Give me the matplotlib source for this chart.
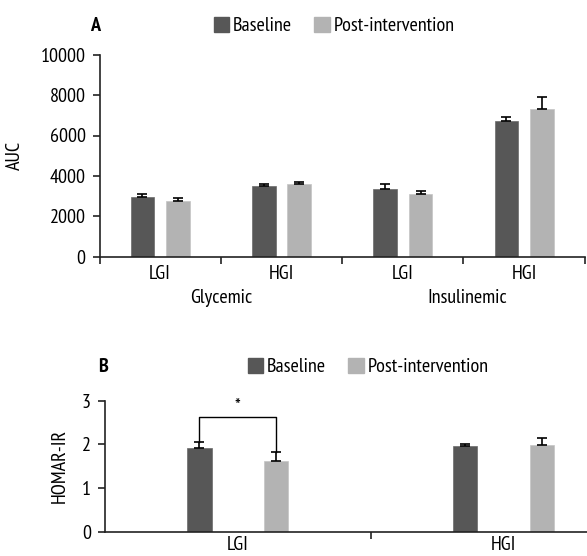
import matplotlib
matplotlib.use("Agg")
import matplotlib.pyplot as plt
from matplotlib.patches import Patch
import numpy as np

plt.rcParams["font.family"] = ["PT Sans Narrow", "DejaVu Sans"]

# panel A data
auc_cats = ["LGI", "HGI", "LGI", "HGI"]
auc_groups = ["Glycemic", "Insulinemic"]
auc_base = [2980, 3510, 3330, 6740]
auc_base_err = [100, 80, 260, 200]
auc_post = [2770, 3590, 3110, 7300]
auc_post_err = [140, 130, 140, 610]

# panel B data
homa_cats = ["LGI", "HGI"]
homa_base = [1.92, 1.97]
homa_base_err = [0.14, 0.03]
homa_post = [1.63, 1.99]
homa_post_err = [0.20, 0.16]

dark = "#575757"
light = "#b3b3b3"
W, H = 587, 556
fs = 14.5

fig = plt.figure(figsize=(W / 100, H / 100), dpi=100)
err_kw = dict(ecolor="black", capsize=3.8, elinewidth=1.2, capthick=1.2)


def style_axes(ax, xpad):
    for s in ["top", "right"]:
        ax.spines[s].set_visible(False)
    for s in ["left", "bottom"]:
        ax.spines[s].set_linewidth(1.2)
        ax.spines[s].set_color("#222222")
    ax.tick_params(axis="x", which="major", length=0, labelsize=fs, pad=xpad)
    ax.tick_params(axis="x", which="minor", length=5, width=1.2, color="#222222")
    ax.tick_params(axis="y", labelsize=fs, length=5, width=1.2, pad=5, color="#222222")


def add_legend(x_px, y_px):
    fig.legend(handles=[Patch(color=dark, label="Baseline"), Patch(color=light, label="Post-intervention")],
               loc="center left", bbox_to_anchor=(x_px / W, 1 - y_px / H), ncol=2, frameon=False,
               fontsize=fs, handlelength=0.75, handleheight=0.75, handletextpad=0.2,
               columnspacing=1.1, borderpad=0, borderaxespad=0)


# ---- panel A ----
axA = fig.add_axes([99.5 / W, 1 - 256.7 / H, (584.8 - 99.5) / W, 202 / H])
x = np.arange(len(auc_cats))
bw = 0.195
off = 0.146
axA.bar(x - off, auc_base, bw, color=dark, edgecolor="#6a6a6a", lw=0.5,
        yerr=[np.zeros(len(x)), auc_base_err], error_kw=err_kw)
axA.bar(x + off, auc_post, bw, color=light, edgecolor="#c4c4c4", lw=0.5,
        yerr=[np.zeros(len(x)), auc_post_err], error_kw=err_kw)
axA.set_xlim(-0.5, 3.5)
axA.set_ylim(0, 10000)
axA.set_yticks(range(0, 10001, 2000))
axA.set_xticks(x)
axA.set_xticklabels(auc_cats)
axA.set_xticks(np.arange(-0.5, 3.6, 1), minor=True)
style_axes(axA, 6)
axA.set_ylabel("AUC", fontsize=fs)
axA.yaxis.set_label_coords(-0.155, 0.5)
for gx, g in zip([0.5, 2.53], auc_groups):
    axA.annotate(g, xy=(gx, 0), xycoords=("data", "axes fraction"),
                 xytext=(0, -30), textcoords="offset points", ha="center", va="center", fontsize=fs)
fig.text(95 / W, 1 - 26 / H, "A", fontsize=fs, fontweight="bold", ha="center", va="center")
add_legend(214, 26)

# ---- panel B ----
axB = fig.add_axes([104.8 / W, 1 - 531.7 / H, (W - 104.8) / W, 131 / H])
xb = np.arange(len(homa_cats))
bwb = 0.091
offb = 0.144
axB.bar(xb - offb, homa_base, bwb, color=dark, edgecolor="#6a6a6a", lw=0.5,
        yerr=[np.zeros(len(xb)), homa_base_err], error_kw=err_kw)
axB.bar(xb + offb, homa_post, bwb, color=light, edgecolor="#c4c4c4", lw=0.5,
        yerr=[np.zeros(len(xb)), homa_post_err], error_kw=err_kw)
axB.set_xlim(-0.5, 1.314)
axB.set_ylim(0, 3)
axB.set_yticks(range(0, 4))
axB.set_xticks(xb)
axB.set_xticklabels(homa_cats)
axB.set_xticks([0.5], minor=True)
style_axes(axB, 3)
axB.set_ylabel("HOMAR-IR", fontsize=fs)
axB.yaxis.set_label_coords(-0.074, 0.5)
# significance bracket
y_top = 2.63
axB.plot([-offb, -offb, offb, offb],
         [homa_base[0] + homa_base_err[0], y_top, y_top, homa_post[0] + homa_post_err[0]],
         color="black", lw=1)
axB.text(0, y_top + 0.03, "*", ha="center", va="bottom", fontsize=14)
fig.text(103 / W, 1 - 367 / H, "B", fontsize=fs, fontweight="bold", ha="center", va="center")
add_legend(248, 367)

fig.savefig("out.png", dpi=100)
